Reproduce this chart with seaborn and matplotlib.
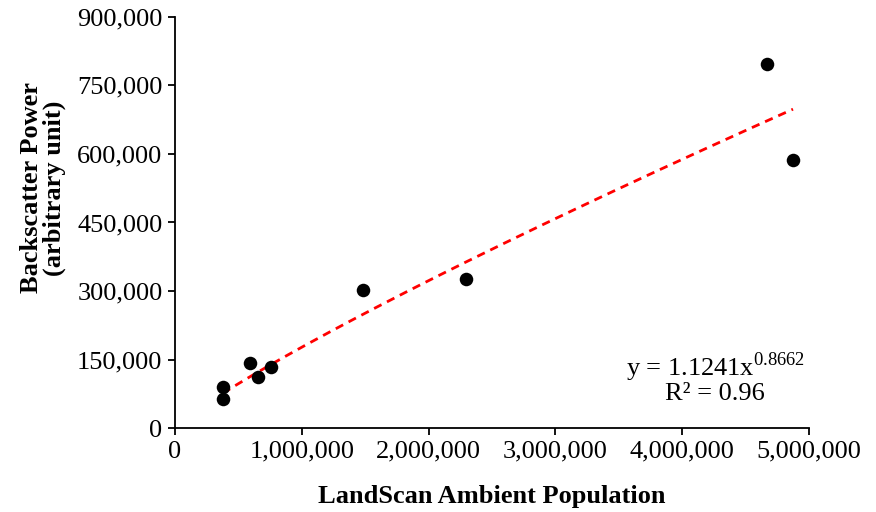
import matplotlib
matplotlib.use('Agg')
import matplotlib.pyplot as plt
import matplotlib.ticker as mticker
import numpy as np
import pandas as pd
import seaborn as sns

# pontos
populacao = [378000, 378000, 591000, 655000, 757000, 1483000, 2295000, 4669000, 4874000]
potencia = [63500, 89800, 142300, 111700, 133600, 302200, 326300, 797000, 586900]

# linha de tendência (potência)
coef_a = 1.1241
coef_b = 0.8662
r2 = 0.96

sns.set_theme(style='white')
plt.rcParams['font.family'] = ['Liberation Serif', 'DejaVu Serif']
plt.rcParams['mathtext.fontset'] = 'custom'
plt.rcParams['mathtext.rm'] = 'Liberation Serif'
plt.rcParams['text.color'] = 'black'
plt.rcParams['axes.labelcolor'] = 'black'

dados = pd.DataFrame({'pop': populacao, 'pot': potencia})

fig = plt.figure(figsize=(8.76, 5.12), dpi=100)
ax = fig.add_axes([0.1998, 0.164, 0.7237, 0.803])

sns.scatterplot(data=dados, x='pop', y='pot', color='black', s=95,
                edgecolor='black', linewidth=0, ax=ax, zorder=3)

xs = np.linspace(min(populacao), max(populacao), 200)
tendencia = pd.DataFrame({'x': xs, 'y': coef_a * xs ** coef_b})
sns.lineplot(data=tendencia, x='x', y='y', color='#ff0000', linestyle=(0, (3, 2.2)),
             linewidth=2, ax=ax, zorder=2)

ax.set_xlim(0, 5000000)
ax.set_ylim(0, 900000)
ax.set_xticks(np.arange(0, 5000001, 1000000))
ax.set_yticks(np.arange(0, 900001, 150000))
fmt = mticker.FuncFormatter(lambda v, p: f'{int(v):,}')
ax.xaxis.set_major_formatter(fmt)
ax.yaxis.set_major_formatter(fmt)

for lado in ['top', 'right']:
    ax.spines[lado].set_visible(False)
for lado in ['left', 'bottom']:
    ax.spines[lado].set_color('black')
    ax.spines[lado].set_linewidth(1.3)

ax.tick_params(axis='both', which='major', direction='out', length=5, width=1.3,
               color='black', labelsize=19, labelcolor='black', pad=4,
               left=True, bottom=True)

ax.set_xlabel('LandScan Ambient Population', fontsize=19, fontweight='bold', labelpad=16)
ax.set_ylabel('Backscatter Power\n(arbitrary unit)', fontsize=19, fontweight='bold',
              linespacing=0.95)
# rótulo do eixo y um pouco acima do centro, como no original
ax.yaxis.set_label_coords(-0.172, 0.584)

# equação e R² (posição em pixels a partir do topo)
fig.text(715 / 876, 1 - 367 / 512, f'y = {coef_a}x$^{{{coef_b}}}$', ha='center',
         va='center', fontsize=19)
fig.text(715 / 876, 1 - 394 / 512, f'R² = {r2}', ha='center', va='center', fontsize=19)

fig.savefig('out.png', dpi=100, facecolor='white')
